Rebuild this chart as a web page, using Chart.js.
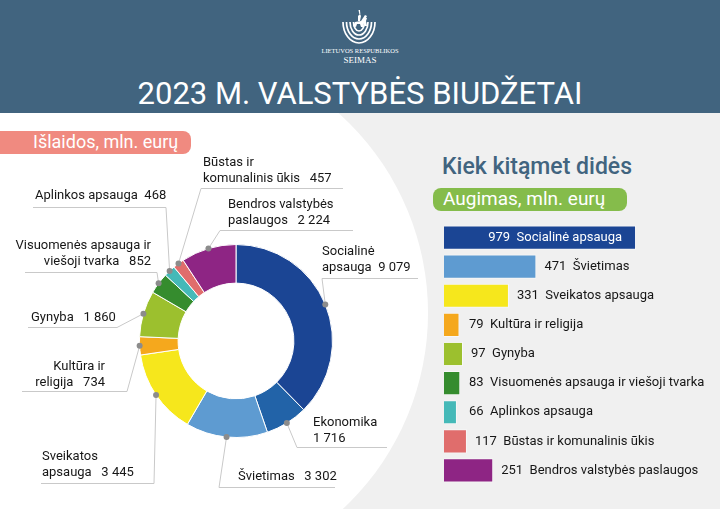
<!DOCTYPE html>
<html>
<head>
<meta charset="utf-8">
<script src="https://cdn.jsdelivr.net/npm/chart.js@4.4.0/dist/chart.umd.min.js"></script>
<style>
html, body { margin: 0; padding: 0; }
body { width: 720px; height: 509px; position: relative; overflow: hidden; background: #f0f0f0; font-family: Roboto, sans-serif; }
#disc { position: absolute; left: -108px; top: 45px; width: 536px; height: 536px; border-radius: 50%; background: #fff; }
#head { position: absolute; left: 0; top: 0; width: 720px; height: 113px; background: #41647f; }
#title { position: absolute; left: 0; top: 78px; width: 720px; text-align: center; color: #fff; font-size: 31px; line-height: 31px; }
#logo1 { position: absolute; left: 0; top: 47px; width: 720px; text-align: center; color: #fff; font: 6.5px "Liberation Serif", serif; line-height: 8px; }
#logo2 { position: absolute; left: 0; top: 55px; width: 720px; text-align: center; color: #fff; font: 9px "Liberation Serif", serif; line-height: 10px; }
.pill { position: absolute; color: #fff; box-sizing: border-box; }
#spend { left: 0; top: 131px; width: 191px; height: 23px; background: #f08a80; border-radius: 0 8px 8px 0; padding-left: 33px; font-size: 18px; line-height: 22px; }
#grow { left: 433px; top: 188px; width: 194px; height: 23px; background: #85bc4b; border-radius: 8px; padding-left: 10px; font-size: 19px; line-height: 22px; }
#sub { position: absolute; left: 442px; top: 153px; color: #41647f; font-size: 23px; line-height: 27px; font-weight: 500; }
canvas { position: absolute; }
</style>
</head>
<body>
<div id="disc"></div>
<div id="head"></div>
<svg style="position:absolute;left:330px;top:0" width="60" height="48" viewBox="0 0 60 48">
  <g fill="none" stroke="#fff" stroke-width="1.7">
    <path d="M13 22 A16 21 0 0 0 45 22"/>
    <path d="M16.5 22 A12.5 17 0 0 0 41.5 22"/>
    <path d="M20 22 A9 13 0 0 0 38 22"/>
    <path d="M23.5 22 A5.5 9 0 0 0 34.5 22"/>
  </g>
  <g fill="#fff">
    <path d="M23 26 L25 22 L31 21 L33 18 L37 18 L36 21 L37 26 L35 26 L34 23 L33 27 L31 27 L30 24 L27 24 L26 27 Z"/>
    <path d="M28 21 L28 16 L30 14 L31 16 L30 21 Z"/>
    <path d="M29.3 14 L28.5 10 L30 10 L30.3 14 Z"/>
    <path d="M33 18 L35 15 L37 16 L36 18 Z"/>
  </g>
</svg>
<div id="logo1">LIETUVOS RESPUBLIKOS</div>
<div id="logo2">SEIMAS</div>
<div id="title">2023 M. VALSTYBĖS BIUDŽETAI</div>
<div class="pill" id="spend">Išlaidos, mln. eurų</div>
<div id="sub">Kiek kitąmet didės</div>
<div class="pill" id="grow">Augimas, mln. eurų</div>

<canvas id="pie" width="720" height="509" style="left:0;top:0"></canvas>
<canvas id="bars" width="276" height="262" style="left:444px;top:223px"></canvas>

<script>
// išlaidos (doughnut), clockwise from the top
const spendCategories = ['Socialinė apsauga', 'Ekonomika', 'Švietimas', 'Sveikatos apsauga', 'Kultūra ir religija',
    'Gynyba', 'Visuomenės apsauga ir viešoji tvarka', 'Aplinkos apsauga', 'Būstas ir komunalinis ūkis', 'Bendros valstybės paslaugos'];
const spendValues = [9079, 1716, 3302, 3445, 734, 1860, 852, 468, 457, 2224];
const spendColors = ['#1b4594', '#2263a8', '#5e9bd1', '#f6e71c', '#f5a81d', '#9cc02e', '#358c2e', '#45b9b8', '#e06d6c', '#8e2584'];

// augimas (bars)
const growthCategories = ['Socialinė apsauga', 'Švietimas', 'Sveikatos apsauga', 'Kultūra ir religija', 'Gynyba',
    'Visuomenės apsauga ir viešoji tvarka', 'Aplinkos apsauga', 'Būstas ir komunalinis ūkis', 'Bendros valstybės paslaugos'];
const growthValues = [979, 471, 331, 79, 97, 83, 66, 117, 251];
const growthColors = ['#1b4594', '#5e9bd1', '#f6e71c', '#f5a81d', '#9cc02e', '#358c2e', '#45b9b8', '#e06d6c', '#8e2584'];

// callout placement for each doughnut slice (br = words on first line, 'v' = value on its own line)
const callouts = [
    {br: 1, sp: 2, x: 322, y: 252, align: 'left', u: [322, 418, 278], a: [322, 278]},
    {br: 'v', sp: 3, x: 313, y: 423, align: 'left', u: [297, 387, 447], a: [297, 447]},
    {br: 0, sp: 3, x: 238, y: 477, align: 'left', u: [219, 335, 487], a: [219, 487]},
    {br: 1, sp: 3, x: 42, y: 457, align: 'left', u: [41, 154, 483], a: [154, 483]},
    {br: 2, sp: 3, x: 105, y: 367, align: 'right', u: [22, 127, 391], a: [127, 391]},
    {br: 0, sp: 3, x: 31, y: 318, align: 'left', u: [28, 117, 327], a: [117, 327]},
    {br: 3, sp: 3, x: 151, y: 246, align: 'right', u: [25, 157, 272], a: [157, 272]},
    {br: 0, sp: 2, x: 35, y: 196, align: 'left', u: [33, 166, 207], a: [166, 207]},
    {br: 2, sp: 3, x: 203, y: 163, align: 'left', u: [201, 343, 188], a: [201, 188]},
    {br: 2, sp: 3, x: 228, y: 205, align: 'left', u: [220, 353, 230], a: [220, 230]}
];

function fmt(v) {
    return String(v).replace(/\B(?=(\d{3})+(?!\d))/g, ' ');
}

const calloutPlugin = {
    id: 'callouts',
    afterDraw(chart) {
        const ctx = chart.ctx;
        const meta = chart.getDatasetMeta(0);
        ctx.save();
        meta.data.forEach((arc, i) => {
            const c = callouts[i];
            const mid = (arc.startAngle + arc.endAngle) / 2;
            const px = arc.x + Math.cos(mid) * arc.outerRadius;
            const py = arc.y + Math.sin(mid) * arc.outerRadius;

            ctx.strokeStyle = '#c9c9c9';
            ctx.lineWidth = 1;
            ctx.beginPath();
            ctx.moveTo(c.u[0], c.u[2] + 0.5);
            ctx.lineTo(c.u[1], c.u[2] + 0.5);
            ctx.moveTo(c.a[0], c.a[1] + 0.5);
            ctx.lineTo(px, py);
            ctx.stroke();

            ctx.fillStyle = '#8c8c8c';
            ctx.beginPath();
            ctx.arc(px, py, 3, 0, Math.PI * 2);
            ctx.fill();

            const words = spendCategories[i].split(' ');
            const val = fmt(spendValues[i]);
            const gap = ' '.repeat(c.sp);
            let lines;
            if (c.br === 'v') lines = [spendCategories[i], val];
            else if (c.br === 0) lines = [spendCategories[i] + gap + val];
            else lines = [words.slice(0, c.br).join(' '), words.slice(c.br).join(' ') + gap + val];

            ctx.fillStyle = '#161616';
            ctx.font = '13px Roboto';
            ctx.textAlign = c.align;
            ctx.textBaseline = 'middle';
            lines.forEach((t, k) => ctx.fillText(t, c.x, c.y + k * 15.5));
        });
        ctx.restore();
    }
};

new Chart(document.getElementById('pie'), {
    type: 'doughnut',
    data: {
        labels: spendCategories,
        datasets: [{
            data: spendValues,
            backgroundColor: spendColors,
            borderColor: '#ffffff',
            borderWidth: 1
        }]
    },
    options: {
        responsive: false,
        animation: false,
        cutout: '60%',
        layout: {padding: {left: 139, right: 387, top: 244, bottom: 71}},
        plugins: {legend: {display: false}, tooltip: {enabled: false}}
    },
    plugins: [calloutPlugin]
});

const barLabels = {
    id: 'barLabels',
    afterDatasetsDraw(chart) {
        const ctx = chart.ctx;
        const meta = chart.getDatasetMeta(0);
        const left = chart.scales.x.getPixelForValue(0);
        const big = Math.max(...growthValues);
        ctx.save();
        ctx.font = '13px Roboto';
        ctx.textBaseline = 'middle';
        meta.data.forEach((bar, i) => {
            const t = growthValues[i] + '  ' + growthCategories[i];
            if (growthValues[i] > big / 2) {
                ctx.fillStyle = '#ffffff';
                ctx.textAlign = 'right';
                ctx.fillText(t, bar.x - 14, bar.y);
            } else {
                ctx.fillStyle = '#161616';
                ctx.textAlign = 'left';
                ctx.fillText(t, Math.max(bar.x + 8, left + 25), bar.y);
            }
        });
        ctx.restore();
    }
};

new Chart(document.getElementById('bars'), {
    type: 'bar',
    data: {
        labels: growthCategories,
        datasets: [{
            data: growthValues,
            backgroundColor: growthColors,
            borderColor: 'rgba(255,255,255,0.55)',
            borderWidth: 1,
            barPercentage: 0.83,
            categoryPercentage: 1
        }]
    },
    options: {
        indexAxis: 'y',
        responsive: false,
        animation: false,
        layout: {padding: 0},
        plugins: {legend: {display: false}, tooltip: {enabled: false}},
        scales: {
            x: {display: false, min: 0, max: 1407},
            y: {display: false}
        }
    },
    plugins: [barLabels]
});
</script>
</body>
</html>
